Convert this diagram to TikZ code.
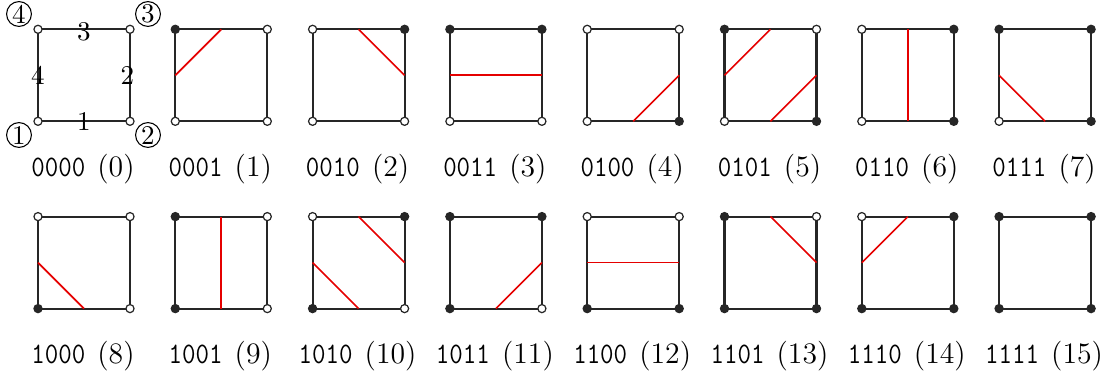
\documentclass[tikz,border=0pt]{standalone}
\usepackage{graphicx}
\begin{document}
\begin{tikzpicture}[x=0.37pt,y=-0.37pt,
  sq/.style={line width=0.75pt, draw=black!85},
  iso/.style={draw=red!90!black, line width=0.6pt},
  vtx/.style={circle, draw=black!85, line width=0.45pt, inner sep=0pt, minimum size=3pt, fill=#1},
  lab/.style={anchor=base, inner sep=0pt, font=\fontsize{11}{13}\selectfont},
  num/.style={circle, draw, line width=0.4pt, inner sep=0pt, minimum size=9.2pt},
  elab/.style={inner sep=0pt}]
\useasboundingbox (0,0) rectangle (1112,376);
\newcommand\mcell[9]{%
  \coordinate (#1c1) at ({#2},{#3+92});
  \coordinate (#1c2) at ({#2+92},{#3+92});
  \coordinate (#1c3) at ({#2+92},{#3});
  \coordinate (#1c4) at ({#2},{#3});
  \coordinate (#1e1) at ({#2+46},{#3+92});
  \coordinate (#1e2) at ({#2+92},{#3+46});
  \coordinate (#1e3) at ({#2+46},{#3});
  \coordinate (#1e4) at ({#2},{#3+46});
  \draw[sq] (#1c1) -- (#1c2) -- (#1c3) -- (#1c4) -- cycle;
  \node[vtx=#4] (#1v1) at (#1c1) {};
  \node[vtx=#5] (#1v2) at (#1c2) {};
  \node[vtx=#6] (#1v3) at (#1c3) {};
  \node[vtx=#7] (#1v4) at (#1c4) {};
  \node[lab] (#1l) at ({#2+45},{#3+147}) {\scalebox{0.88}[1]{\texttt{#8}}\hspace{4.5pt}(#9)};
}
\def\W{white}
\def\B{black!85}
% row 1
\mcell{a}{38}{29.3}{\W}{\W}{\W}{\W}{0000}{0}
\mcell{b}{175.3}{29.3}{\W}{\W}{\W}{\B}{0001}{1}
\mcell{c}{312.6}{29.3}{\W}{\W}{\B}{\W}{0010}{2}
\mcell{d}{449.9}{29.3}{\W}{\W}{\B}{\B}{0011}{3}
\mcell{e}{587.2}{29.3}{\W}{\B}{\W}{\W}{0100}{4}
\mcell{f}{724.5}{29.3}{\W}{\B}{\W}{\B}{0101}{5}
\mcell{g}{861.8}{29.3}{\W}{\B}{\B}{\W}{0110}{6}
\mcell{h}{999.1}{29.3}{\W}{\B}{\B}{\B}{0111}{7}
% row 2
\mcell{i}{38}{216.6}{\B}{\W}{\W}{\W}{1000}{8}
\mcell{j}{175.3}{216.6}{\B}{\W}{\W}{\B}{1001}{9}
\mcell{k}{312.6}{216.6}{\B}{\W}{\B}{\W}{1010}{10}
\mcell{l}{449.9}{216.6}{\B}{\W}{\B}{\B}{1011}{11}
\mcell{m}{587.2}{216.6}{\B}{\B}{\W}{\W}{1100}{12}
\mcell{n}{724.5}{216.6}{\B}{\B}{\W}{\B}{1101}{13}
\mcell{o}{861.8}{216.6}{\B}{\B}{\B}{\W}{1110}{14}
\mcell{p}{999.1}{216.6}{\B}{\B}{\B}{\B}{1111}{15}
% isolines
\draw[iso] (be4) -- (be3);
\draw[iso] (ce3) -- (ce2);
\draw[iso] (de4) -- (de2);
\draw[iso] (ee1) -- (ee2);
\draw[iso] (fe4) -- (fe3);
\draw[iso] (fe1) -- (fe2);
\draw[iso] (ge1) -- (ge3);
\draw[iso] (he4) -- (he1);
\draw[iso] (ie4) -- (ie1);
\draw[iso] (je1) -- (je3);
\draw[iso] (ke4) -- (ke1);
\draw[iso] (ke3) -- (ke2);
\draw[iso] (le1) -- (le2);
\draw[iso] (me4) -- (me2);
\draw[iso] (ne3) -- (ne2);
\draw[iso] (oe4) -- (oe3);
% legend of cell 0
\node[elab] (t1) at (ae1) {1};
\node[elab] (t2) at ([xshift=-1pt]ae2) {2};
\node[elab] (t3) at ([yshift=-1pt]ae3) {3};
\node[elab] (t4) at (ae4) {4};
\node[num] (k1) at (19,135) {1};
\node[num] (k2) at (148,135) {2};
\node[num] (k3) at (148,14) {3};
\node[num] (k4) at (19,14) {4};
\end{tikzpicture}
\end{document}
